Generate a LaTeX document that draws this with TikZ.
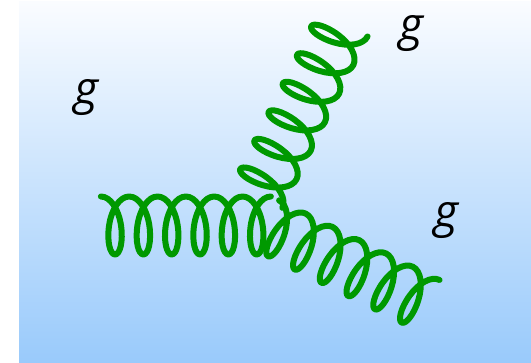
\documentclass[tikz,border=0pt]{standalone}
\usepackage{fontspec}
\newfontfamily\glfont{Open Sans}
\usepackage{xcolor}
\usetikzlibrary{decorations}

\definecolor{gluongreen}{RGB}{0,153,0}
\definecolor{bgtop}{RGB}{250,252,255}
\definecolor{bgbottom}{RGB}{153,202,251}

% point on one turn of the spring
\newcommand{\glpt}[3]{\pgfpoint
  {#1*\pgfdecorationsegmentaspect*\pgfdecorationsegmentamplitude+#3*\pgfdecorationsegmentlength/12}
  {#2*\pgfdecorationsegmentamplitude}}

% spring that starts and stops on top of a turn
\pgfdeclaredecoration{gluon}{start}{
  \state{start}[width=+0pt, next state=coil]{
    \pgfpathmoveto{\glpt{1}{1}{3}}
  }
  \state{coil}[switch if less than=+\pgfdecorationsegmentlength to final,
    width=+\pgfdecorationsegmentlength]{
    \pgfpathcurveto{\glpt{1.555}{1}{4}}{\glpt{2}{0.555}{5}}{\glpt{2}{0}{6}}
    \pgfpathcurveto{\glpt{2}{-0.555}{7}}{\glpt{1.555}{-1}{8}}{\glpt{1}{-1}{9}}
    \pgfpathcurveto{\glpt{0.445}{-1}{10}}{\glpt{0}{-0.555}{11}}{\glpt{0}{0}{12}}
    \pgfpathcurveto{\glpt{0}{0.555}{13}}{\glpt{0.445}{1}{14}}{\glpt{1}{1}{15}}
  }
  \state{final}{}
}

\tikzset{
  gluon/.style={draw=gluongreen, line width=6pt, line cap=round, line join=round,
    decorate, decoration={gluon, amplitude=27.5pt, aspect=0.45, segment length=#1}},
  gluon/.default=29.85pt,
  glabel/.style={font=\glfont\itshape\fontsize{46}{46}\selectfont, inner sep=0pt}
}

\begin{document}
\begin{tikzpicture}[x=1pt, y=-1pt]
  \useasboundingbox (0,0) rectangle (531,363);
  \shade[top color=bgtop, bottom color=bgbottom] (19,2) rectangle (531,363);

  % ends of the three springs
  \coordinate (L0) at (80.75,225.5);
  \coordinate (L1) at (264.85,225.5);
  \coordinate (U0) at (352.0,6.0);
  \coordinate (U1) at (259.7,191.6);
  \coordinate (R0) at (249.1,216.2);
  \coordinate (R1) at (422.9,302.4);

  \draw[gluon=28.33pt, decoration={amplitude=29pt}] (L0) -- (L1);
  \draw[gluon=31.9pt] (U0) -- (U1);
  \draw[gluon] (R0) -- (R1);

  \node[glabel] (gL) at (86.5,98) {g};
  \node[glabel] (gU) at (411,34) {g};
  \node[glabel] (gR) at (446,221) {g};
\end{tikzpicture}
\end{document}
